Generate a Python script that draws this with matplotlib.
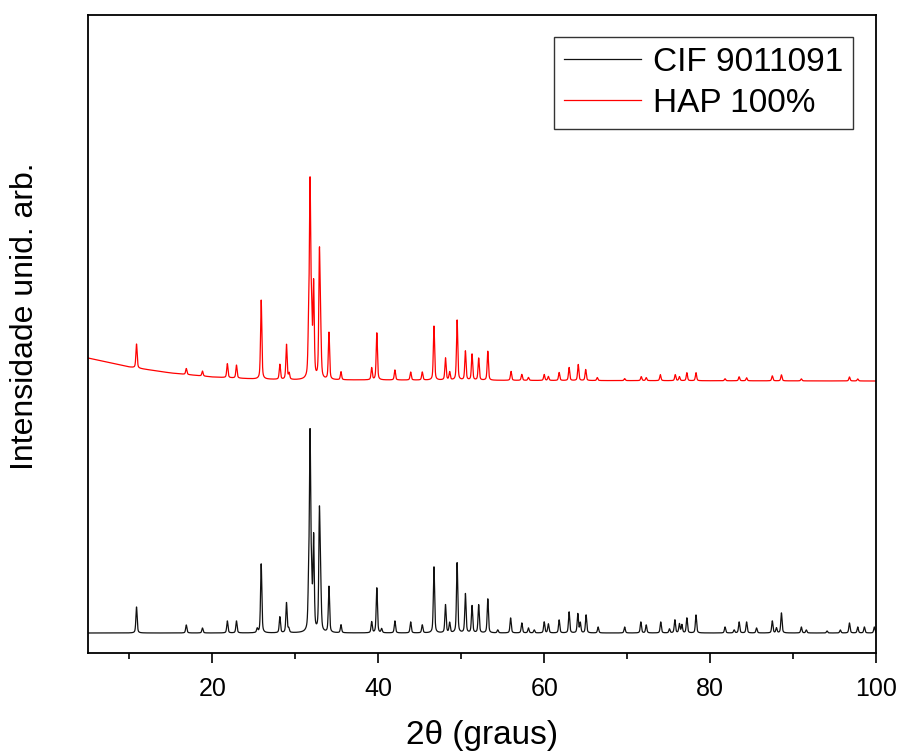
import numpy as np
import matplotlib
matplotlib.use("Agg")
import matplotlib.pyplot as plt
from matplotlib.ticker import MultipleLocator

plt.rcParams['font.family'] = ['Liberation Sans', 'DejaVu Sans']

# Reference pattern (CIF 9011091): peak positions (2theta) and heights (arb.)
cif_pos = [10.85, 16.85, 18.8, 21.8, 22.9, 25.4, 25.88, 28.13, 28.93, 29.2,
           31.6, 31.77, 31.95, 32.2, 32.9, 33.05, 34.05, 35.5, 39.2, 39.82,
           40.4, 42.0, 43.9, 45.3, 46.71, 48.1, 48.6, 49.5, 50.5, 51.3,
           52.1, 53.2, 54.4, 55.95, 57.3, 58.1, 58.8, 60.0, 60.5, 61.8,
           63.0, 64.05, 64.35, 65.05, 66.5, 69.7, 71.65, 72.3, 74.05, 75.1,
           75.75, 76.3, 76.6, 77.2, 78.3, 81.8, 82.9, 83.5, 84.4, 85.6,
           87.5, 88.0, 88.6, 91.0, 91.6, 94.1, 95.7, 96.8, 97.8, 98.6, 99.8]
cif_int = [26, 8, 5, 12, 12, 4, 69, 16, 30, 4,
           40, 190, 45, 92, 117, 40, 46, 8, 11, 45,
           4, 12, 11, 8, 66, 28, 10, 70, 39, 27,
           28, 34, 3, 15, 10, 5, 3, 11, 9, 13,
           21, 19, 10, 18, 6, 6, 11, 8, 11, 4,
           13, 9, 8, 15, 18, 6, 3, 11, 11, 5,
           12, 5, 20, 6, 3, 2, 3, 10, 6, 6, 6]

# Measured sample (HAP 100%)
hap_pos = [10.85, 16.85, 18.8, 21.8, 22.9, 25.88, 28.13, 28.93, 29.25,
           31.6, 31.77, 31.95, 32.2, 32.9, 33.05, 34.05, 35.5, 39.2, 39.82,
           42.0, 43.9, 45.3, 46.71, 48.1, 48.6, 49.5, 50.5, 51.3, 52.1,
           53.2, 56.0, 57.3, 58.1, 60.0, 60.5, 61.8, 63.0, 64.1, 65.0,
           66.4, 69.7, 71.7, 72.3, 74.0, 75.8, 76.3, 77.2, 78.3, 81.8,
           83.5, 84.4, 87.5, 88.6, 91.0, 96.8, 97.8]
hap_int = [24, 6, 5, 14, 13, 79, 15, 35, 6,
           45, 186, 60, 92, 123, 40, 47, 8, 12, 47,
           10, 8, 8, 54, 22, 8, 60, 29, 26, 22,
           29, 9, 6, 3, 6, 4, 8, 13, 16, 11,
           3, 2, 4, 3, 6, 6, 4, 8, 8, 2,
           4, 3, 5, 6, 2, 4, 2]

# Background of measured pattern (read at a few angles)
bg_x = [5, 10, 15, 20, 25, 30, 40, 60, 100]
bg_y = [275, 266, 260, 256, 254, 253, 253, 252.5, 252]

x = np.arange(5, 100.001, 0.01)

def pattern(pos, inten, fwhm=0.18, eta=0.5):
    y = np.zeros_like(x)
    hw = fwhm / 2
    for p, h in zip(pos, inten):
        d = (x - p) / hw
        lor = 1 / (1 + d ** 2)
        gau = np.exp(-np.log(2) * d ** 2)
        y += h * (eta * lor + (1 - eta) * gau)
    return y

y_cif = pattern(cif_pos, cif_int)
y_hap = pattern(hap_pos, hap_int) + np.interp(x, bg_x, bg_y)

fig = plt.figure(figsize=(8.99, 7.54), dpi=100)
ax = fig.add_axes([88 / 899, 1 - 653 / 754, (876 - 88) / 899, (653 - 15) / 754])

ax.plot(x, y_cif, color='#111111', lw=0.9, label='CIF 9011091')
ax.plot(x, y_hap, color='#ff0000', lw=0.9, label='HAP 100%')

ax.set_xlim(5, 100)
ax.set_ylim(-20, 618)
ax.xaxis.set_major_locator(MultipleLocator(20))
ax.xaxis.set_minor_locator(MultipleLocator(10))
ax.set_yticks([])
ax.tick_params(axis='x', which='major', direction='out', length=7, width=1.2,
               labelsize=18, pad=10)
ax.tick_params(axis='x', which='minor', direction='out', length=4, width=1.2)
for s in ax.spines.values():
    s.set_linewidth(1.3)

ax.set_xlabel('2θ (graus)', fontsize=24, labelpad=14)
fig.text(25 / 899, 1 - 316 / 754, 'Intensidade unid. arb.', rotation=90,
         fontsize=23, ha='center', va='center')

leg = ax.legend(loc='upper right', bbox_to_anchor=((853 - 88) / 788, (653 - 37) / 638),
                borderaxespad=0, fontsize=24, frameon=True, fancybox=False,
                edgecolor='black', handlelength=2.3, handletextpad=0.35,
                labelspacing=0.3, borderpad=0.3)
leg.get_frame().set_linewidth(1.0)

fig.savefig('out.png', dpi=100)
